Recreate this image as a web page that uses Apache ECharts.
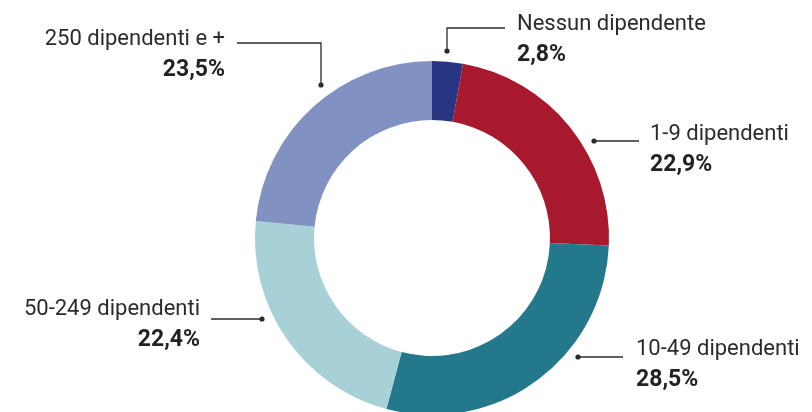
<!DOCTYPE html>
<html>
<head>
<meta charset="utf-8">
<script src="https://cdn.jsdelivr.net/npm/echarts@6/dist/echarts.min.js"></script>
<style>
  html, body { margin: 0; padding: 0; background: #fff; }
  #chart { width: 812px; height: 412px; }
</style>
</head>
<body>
<div id="chart"></div>
<script>
// Share of companies by workforce size (clockwise from the top)
const categories = ['Nessun dipendente', '1-9 dipendenti', '10-49 dipendenti', '50-249 dipendenti', '250 dipendenti e +'];
const shares = [2.8, 22.9, 28.5, 22.4, 23.5];
const colors = ['#283583', '#a8192e', '#24788c', '#a8d0d7', '#8191c1'];

// Label placement and leader lines (pixel layout)
const labelPos = [
  { x: 517, y: 40, align: 'left' },
  { x: 650, y: 150, align: 'left' },
  { x: 636, y: 365, align: 'left' },
  { x: 200, y: 325, align: 'right' },
  { x: 225, y: 55, align: 'right' }
];
const leaders = [
  [[447, 51], [447, 28], [505, 28]],
  [[594, 141], [639, 141]],
  [[578, 357], [623, 357]],
  [[262, 319], [211, 319]],
  [[321, 85], [321, 43], [237, 43]]
];

const fmt = v => v.toFixed(1).replace('.', ',') + '%';
const FONT = 'Roboto';

const graphics = [];
leaders.forEach(pts => {
  graphics.push({
    type: 'polyline',
    shape: { points: pts },
    style: { stroke: '#2a2a2a', lineWidth: 1.3, fill: null },
    silent: true
  });
  graphics.push({
    type: 'circle',
    shape: { cx: pts[0][0], cy: pts[0][1], r: 2.6 },
    style: { fill: '#2a2a2a' },
    silent: true
  });
});

const chart = echarts.init(document.getElementById('chart'), null, { renderer: 'canvas' });
chart.setOption({
  backgroundColor: '#ffffff',
  animation: false,
  graphic: graphics,
  series: [{
    type: 'pie',
    center: [432, 238],
    radius: [118, 177],
    startAngle: 90,
    clockwise: true,
    silent: true,
    data: categories.map((c, i) => ({ name: c, value: shares[i], itemStyle: { color: colors[i] } })),
    label: {
      show: true,
      position: 'outside',
      formatter: p => '{n|' + p.name + '}\n{v|' + fmt(p.value) + '}',
      rich: {
        n: { fontFamily: FONT, fontSize: 22, color: '#2b2b2b', lineHeight: 31 },
        v: { fontFamily: FONT, fontSize: 23, fontWeight: 'bold', color: '#222222', lineHeight: 31 }
      }
    },
    labelLine: { show: false },
    labelLayout: function (params) {
      const p = labelPos[params.dataIndex];
      return { x: p.x, y: p.y, align: p.align, verticalAlign: 'middle' };
    }
  }]
});
</script>
</body>
</html>
